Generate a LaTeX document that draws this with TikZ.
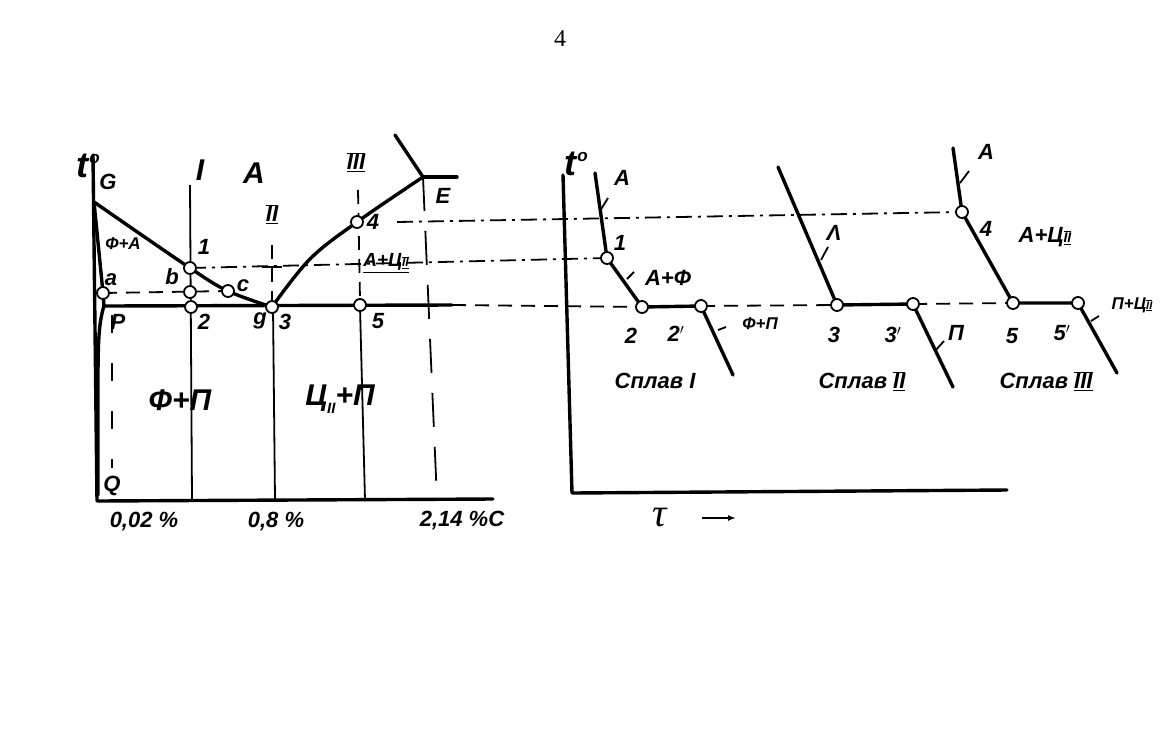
\documentclass[tikz,border=0pt]{standalone}
\usepackage{fontspec}
\usetikzlibrary{arrows.meta}
\setmainfont{Liberation Sans}
\newfontfamily\pagefont{Liberation Serif}
\newcommand\fsz[1]{\fontsize{#1}{#1}\selectfont\itshape\bfseries}
\newcommand\rmn[1]{$\overline{\underline{\mbox{#1}}}$}
\newcommand\tdeg{t\raisebox{14pt}{\fontsize{17}{17}\selectfont\kern1pt o}}
\begin{document}
\begin{tikzpicture}[x=1pt,y=-1pt,
  thk/.style={line width=3.4pt,line cap=round,line join=round},
  thn/.style={line width=1.8pt},
  dsh/.style={line width=1.8pt,dash pattern=on 14pt off 9pt},
  ddot/.style={line width=1.8pt,dash pattern=on 16pt off 6pt on 3pt off 6pt},
  pt/.style={circle,draw,fill=white,line width=1.8pt,inner sep=0pt,minimum size=12pt},
  lab/.style={inner sep=1pt,font=\fsz{22}},
  big/.style={inner sep=1pt,font=\fsz{30}},
  sml/.style={inner sep=1pt,font=\fsz{17}},
  tick/.style={line width=1.8pt}]
\useasboundingbox (0,0) rectangle (1164,740);
\node[font=\pagefont\fontsize{24}{24}\selectfont] (pg) at (560,39) {4};

% ---------- left diagram: coordinates
\coordinate (G) at (94,202);
\coordinate (a) at (103,293);
\coordinate (P) at (104,306);
\coordinate (p1) at (190,268);
\coordinate (b) at (190,292);
\coordinate (p2) at (191,307);
\coordinate (c) at (228,291);
\coordinate (S) at (272,307);
\coordinate (p4) at (357,222);
\coordinate (p5) at (360,305);
\coordinate (E) at (423,177);
\coordinate (K) at (452,305);
\coordinate (axT) at (93,155);
\coordinate (axO) at (97,501);
\coordinate (axR) at (493,499);

% axes
\draw[thk] (axT) -- (axO) -- (axR);
% alloy verticals
\draw[thn] (190,185) -- (192,500);
\draw[dsh] (272,245) -- (272,305);
\draw[thn] (262,267) -- (282,267);
\draw[thn] (273,307) -- (275,500);
\draw[dsh] (358,190) -- (360,300);
\draw[thn] (360,307) -- (365,500);
\draw[line width=1.8pt,dash pattern=on 34pt off 20pt] (E) -- (437,500);
\draw[line width=1.8pt,dash pattern=on 18pt off 30pt] (112,315) -- (112,468);
% phase lines
\draw[thk] plot[smooth,tension=0.6] coordinates {(G) (p1) (c) (S)};
\draw[thk] (G) -- (a) -- (P);
\draw[thk] (P) .. controls (99,322) and (98,340) .. (98,380) -- (98,495);
\draw[thk] (P) -- (K);
\draw[thk] plot[smooth,tension=0.6] coordinates {(S) (310,259) (p4) (E)};
\draw[thk] (E) -- (457,177);
\draw[thk] (E) -- (395,135);
\draw[dsh] (a) -- (c);

% ---------- right diagram: coordinates
\coordinate (raT) at (563,175);
\coordinate (raO) at (572,493);
\coordinate (raR) at (1007,490);
\coordinate (r1a) at (595,173);
\coordinate (r1) at (607,258);
\coordinate (r2) at (642,307);
\coordinate (r2p) at (701,306);
\coordinate (r1z) at (733,375);
\coordinate (r3a) at (778,167);
\coordinate (r3) at (837,305);
\coordinate (r3p) at (913,304);
\coordinate (r3z) at (953,387);
\coordinate (r4a) at (953,148);
\coordinate (r4) at (962,212);
\coordinate (r5) at (1013,303);
\coordinate (r5p) at (1078,303);
\coordinate (r5z) at (1117,373);
\coordinate (L4) at (397,222);

\draw[thk] (raT) -- (raO) -- (raR);
% connecting dashed levels
\draw[ddot] (L4) -- (r4);
\draw[ddot] (p1) -- (r1);
\draw[dsh] (K) -- (r2);
\draw[dsh] (r2p) -- (r3);
\draw[dsh] (r3p) -- (r5);
% cooling curves
\draw[thk] (r1a) -- (r1) -- (r2) -- (r2p) -- (r1z);
\draw[thk] (r3a) -- (r3) -- (r3p) -- (r3z);
\draw[thk] (r4a) -- (r4) -- (r5) -- (r5p) -- (r5z);
% ticks
\draw[tick] (600,211) -- (608,198);
\draw[tick] (627,279) -- (634,272);
\draw[tick] (718,330) -- (726,327);
\draw[tick] (821,260) -- (828,247);
\draw[tick] (935,351) -- (944,341);
\draw[tick] (960,183) -- (969,171);
\draw[tick] (1091,321) -- (1099,316);

% circles
\foreach \q in {a,b,p1,p2,c,S,p4,p5,r1,r2,r2p,r3,r3p,r4,r5,r5p}
  \node[pt] (c\q) at (\q) {};

% ---------- labels left
\node[inner sep=0pt,font=\fsz{36}] (tL) at (88,166) {\tdeg};
\node[lab] (lG) at (108,182) {G};
\node[big] (lI) at (200,170) {I};
\node[big] (lA) at (254,173) {A};
\node[lab] (lII) at (272,214) {\rmn{II}};
\node[lab] (lIII) at (356,162) {\rmn{III}};
\node[lab] (lE) at (443,196) {E};
\node[sml] (lFA) at (123,244) {Ф+А};
\node[lab] (l1) at (204,247) {1};
\node[lab] (la) at (111,280) {a};
\node[lab] (lb) at (172,277) {b};
\node[lab] (lc) at (243,286) {c};
\node[lab] (l4) at (373,222) {4};
\node[sml,font=\fsz{19}] (lAC) at (386,263) {\underline{A+Ц\rmn{\fsz{12}II}}};
\node[lab] (lP) at (118,322) {P};
\node[lab] (l2) at (204,322) {2};
\node[lab] (lg) at (260,321) {g};
\node[lab] (l3) at (285,322) {3};
\node[lab] (l5) at (378,321) {5};
\node[big] (lFP) at (180,400) {Ф+П};
\node[big] (lCP) at (340,399) {Ц\raisebox{-8pt}{\fsz{15}II}+П};
\node[lab] (lQ) at (112,486) {Q};
\node[lab] (x1) at (144,522) {0,02 \%};
\node[lab] (x2) at (276,522) {0,8 \%};
\node[lab] (x3) at (462,521) {2,14 \%C};

% ---------- labels right
\node[inner sep=0pt,font=\fsz{36}] (tR) at (576,164) {\tdeg};
\node[lab] (rA1) at (622,178) {A};
\node[lab] (r1l) at (620,243) {1};
\node[lab] (rAF) at (668,278) {A+Ф};
\node[lab] (r2l) at (631,336) {2};
\node[lab] (r2pl) at (676,334) {2$'$};
\node[sml] (rFP) at (760,324) {Ф+П};
\node[lab] (rS1) at (655,381) {Сплав I};
\node[lab] (rA2) at (834,233) {Λ};
\node[lab] (r3l) at (834,335) {3};
\node[lab] (r3pl) at (893,335) {3$'$};
\node[lab] (rP) at (956,333) {П};
\node[lab] (rS2) at (862,381) {Сплав \rmn{II}};
\node[lab] (rA3) at (986,152) {A};
\node[lab] (r4l) at (986,229) {4};
\node[lab] (rAC) at (1045,237) {A+Ц\rmn{\fsz{14}II}};
\node[lab] (r5l) at (1012,336) {5};
\node[lab] (r5pl) at (1062,333) {5$'$};
\node[sml] (rPC) at (1132,305) {П+Ц\rmn{\fsz{11}II}};
\node[lab] (rS3) at (1046,381) {Сплав \rmn{III}};
\node[inner sep=0pt,font=\pagefont\itshape\fontsize{40}{40}\selectfont] (tau) at (660,518) {τ};
\coordinate (arA) at (702,518);
\coordinate (arB) at (736,518);
\draw[line width=2.4pt,-{Latex[length=8pt,width=6pt]}] (arA) -- (arB);
\end{tikzpicture}
\end{document}
